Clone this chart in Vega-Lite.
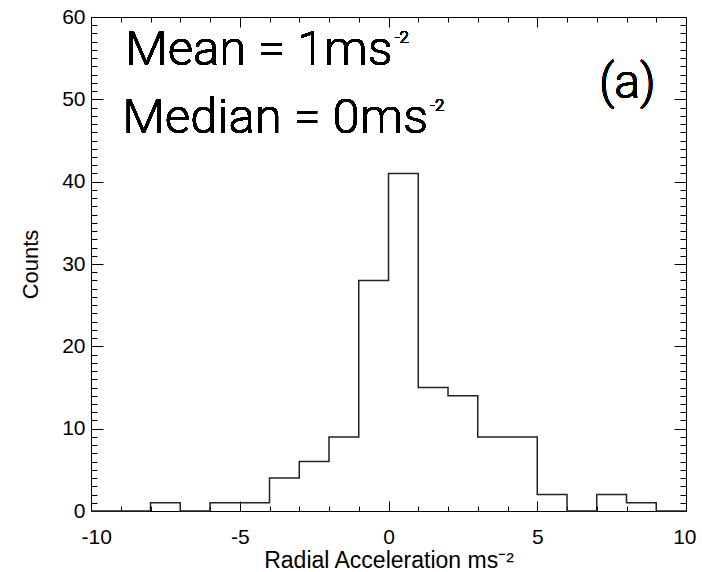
{
  "$schema": "https://vega.github.io/schema/vega-lite/v6.json",
  "width": 595,
  "height": 494,
  "autosize": "none",
  "padding": {"left": 91, "top": 17, "right": 16, "bottom": 61},
  "background": "white",
  "config": {
    "view": {"stroke": null},
    "font": "Liberation Sans",
    "axis": {
      "grid": false,
      "domainColor": "black",
      "tickColor": "black",
      "labelColor": "black",
      "titleColor": "black",
      "labelFont": "Liberation Sans",
      "titleFont": "Liberation Sans",
      "labelFontSize": 21,
      "titleFontSize": 23,
      "titleFontWeight": "normal",
      "labelFlush": false,
      "labelOverlap": false,
      "labelBound": false,
      "domainWidth": 1,
      "tickWidth": 1
    }
  },
  "data": {
    "values": [
      {"x": -10, "count": 0},
      {"x": -9, "count": 0},
      {"x": -8, "count": 1},
      {"x": -7, "count": 0},
      {"x": -6, "count": 1},
      {"x": -5, "count": 1},
      {"x": -4, "count": 4},
      {"x": -3, "count": 6},
      {"x": -2, "count": 9},
      {"x": -1, "count": 28},
      {"x": 0, "count": 41},
      {"x": 1, "count": 15},
      {"x": 2, "count": 14},
      {"x": 3, "count": 9},
      {"x": 4, "count": 9},
      {"x": 5, "count": 2},
      {"x": 6, "count": 0},
      {"x": 7, "count": 2},
      {"x": 8, "count": 1},
      {"x": 9, "count": 0},
      {"x": 10, "count": 0}
    ]
  },
  "layer": [
    {
      "mark": {"type": "line", "interpolate": "step-after", "color": "#222", "strokeWidth": 1.5},
      "encoding": {
        "x": {
          "field": "x", "type": "quantitative",
          "scale": {"domain": [-10, 10], "nice": false, "zero": false},
          "axis": {
            "orient": "bottom",
            "values": [-10,-9,-8,-7,-6,-5,-4,-3,-2,-1,0,1,2,3,4,5,6,7,8,9,10],
            "labelExpr": "datum.value % 5 === 0 ? '' + datum.value : ''",
            "tickSize": {"condition": {"test": "datum.value % 5 === 0", "value": -10}, "value": -5},
            "labelPadding": 25,
            "labelFlush": true,
            "labelFlushOffset": 10,
            "title": "Radial Acceleration ms⁻²",
            "titleBaseline": "alphabetic",
            "titleY": 56
          }
        },
        "y": {
          "field": "count", "type": "quantitative",
          "scale": {"domain": [0, 60], "nice": false, "zero": true},
          "axis": {
            "orient": "left",
            "values": [0,1,2,3,4,5,6,7,8,9,10,11,12,13,14,15,16,17,18,19,20,21,22,23,24,25,26,27,28,29,30,31,32,33,34,35,36,37,38,39,40,41,42,43,44,45,46,47,48,49,50,51,52,53,54,55,56,57,58,59,60],
            "labelExpr": "datum.value % 10 === 0 ? '' + datum.value : ''",
            "tickSize": {"condition": {"test": "datum.value % 10 === 0", "value": -12}, "value": -6},
            "labelPadding": 18,
            "title": "Counts",
            "titleFontSize": 22,
            "titlePadding": 19
          }
        }
      }
    },
    {
      "mark": {"type": "text", "text": "(a)", "align": "center", "baseline": "alphabetic", "fontSize": 48, "font": "Roboto", "fontWeight": 300, "fill": "black", "stroke": null},
      "encoding": {
        "x": {
          "datum": 8.03, "type": "quantitative",
          "axis": {
            "orient": "top",
            "values": [-10,-9,-8,-7,-6,-5,-4,-3,-2,-1,0,1,2,3,4,5,6,7,8,9,10],
            "labels": false,
            "title": null,
            "tickSize": {"condition": {"test": "datum.value % 5 === 0", "value": -10}, "value": -5}
          }
        },
        "y": {
          "datum": 50.16, "type": "quantitative",
          "axis": {
            "orient": "right",
            "values": [0,1,2,3,4,5,6,7,8,9,10,11,12,13,14,15,16,17,18,19,20,21,22,23,24,25,26,27,28,29,30,31,32,33,34,35,36,37,38,39,40,41,42,43,44,45,46,47,48,49,50,51,52,53,54,55,56,57,58,59,60],
            "labels": false,
            "title": null,
            "tickSize": {"condition": {"test": "datum.value % 10 === 0", "value": -12}, "value": -6}
          }
        }
      }
    },
    {
      "mark": {"type": "text", "text": "Mean = 1ms", "align": "right", "baseline": "alphabetic", "fontSize": 49, "font": "Roboto", "fontWeight": 300, "fill": "black", "stroke": null},
      "encoding": {
        "x": {"datum": 0.14, "type": "quantitative", "axis": null},
        "y": {"datum": 54.17, "type": "quantitative", "axis": null}
      }
    },
    {
      "mark": {"type": "text", "text": "-2", "align": "left", "baseline": "alphabetic", "fontSize": 17, "font": "Roboto", "fontWeight": 300, "fill": "black", "stroke": null, "dx": 2, "dy": -22},
      "encoding": {
        "x": {"datum": 0.14, "type": "quantitative", "axis": null},
        "y": {"datum": 54.17, "type": "quantitative", "axis": null}
      }
    },
    {
      "mark": {"type": "text", "text": "Median = 0ms", "align": "right", "baseline": "alphabetic", "fontSize": 49, "font": "Roboto", "fontWeight": 300, "fill": "black", "stroke": null},
      "encoding": {
        "x": {"datum": 1.33, "type": "quantitative", "axis": null},
        "y": {"datum": 45.91, "type": "quantitative", "axis": null}
      }
    },
    {
      "mark": {"type": "text", "text": "-2", "align": "left", "baseline": "alphabetic", "fontSize": 17, "font": "Roboto", "fontWeight": 300, "fill": "black", "stroke": null, "dx": 2, "dy": -22},
      "encoding": {
        "x": {"datum": 1.33, "type": "quantitative", "axis": null},
        "y": {"datum": 45.91, "type": "quantitative", "axis": null}
      }
    }
  ],
  "resolve": {"axis": {"x": "independent", "y": "independent"}}
}
